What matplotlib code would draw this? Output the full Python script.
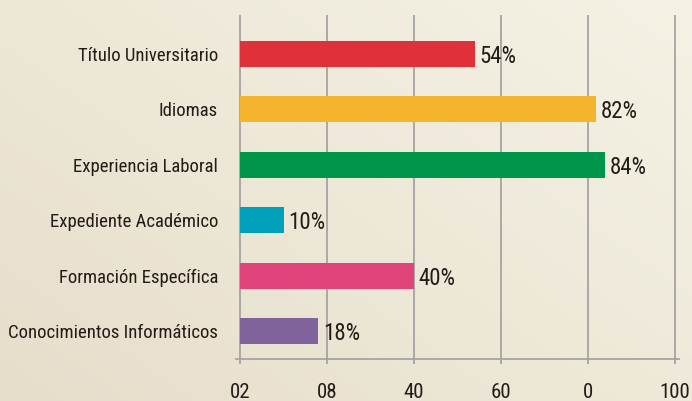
import numpy as np
import matplotlib
matplotlib.use('Agg')
import matplotlib.pyplot as plt
from matplotlib.colors import LinearSegmentedColormap

# datos de la encuesta (de abajo hacia arriba)
categorias = ['Conocimientos Informáticos', 'Formación Específica', 'Expediente Académico',
              'Experiencia Laboral', 'Idiomas', 'Título Universitario']
porcentajes = [18, 40, 10, 84, 82, 54]
colores = ['#80629C', '#E0447A', '#00A0BA', '#00964A', '#F4B42C', '#E0313A']
ticks_x = [0, 20, 40, 60, 80, 100]
ticks_txt = ['02', '08', '40', '60', '0', '100']

plt.rcParams['font.family'] = ['Roboto Condensed', 'DejaVu Sans']
plt.rcParams['font.stretch'] = 'condensed'
TXT = '#231B16'
GRIS = '#A4A4A2'
FS = 13.5

fig = plt.figure(figsize=(6.92, 4.01), dpi=100)

# fondo beige con degradado diagonal
bg = fig.add_axes([0, 0, 1, 1], zorder=-10)
bg.axis('off')
yy, xx = np.mgrid[0:1:200j, 0:1:300j]
grad = 0.55 * xx + 0.45 * (1 - yy)
cmap = LinearSegmentedColormap.from_list('beige', ['#E6DECB', '#F5F2E5'])
bg.imshow(grad, cmap=cmap, aspect='auto', extent=[0, 1, 0, 1], origin='upper')

ax = fig.add_axes([0.341, 0.105, 0.640, 0.858])
ax.patch.set_alpha(0)
y = np.arange(len(categorias))
ax.barh(y, porcentajes, height=0.47, color=colores, zorder=3)
for yi, v in zip(y, porcentajes):
    ax.text(v + 1.1, yi - 0.05, f'{v}%', va='center', ha='left', fontsize=16.5,
            color=TXT, zorder=4)

ax.set_xlim(-1, 101)
ax.set_ylim(-0.5, 5.7)
ax.set_xticks(ticks_x, ticks_txt)
ax.set_yticks(y, categorias)
ax.xaxis.grid(True, color=GRIS, lw=1.3, zorder=0)
ax.set_axisbelow(True)
ax.tick_params(axis='y', length=0, pad=13, labelsize=FS, labelcolor=TXT)
ax.tick_params(axis='x', length=3.5, width=1.3, color=GRIS, pad=14, labelsize=15, labelcolor=TXT)
for s in ['top', 'right', 'left']:
    ax.spines[s].set_visible(False)
ax.spines['bottom'].set_color(GRIS)
ax.spines['bottom'].set_linewidth(1.3)

fig.savefig('out.png', dpi=100)
